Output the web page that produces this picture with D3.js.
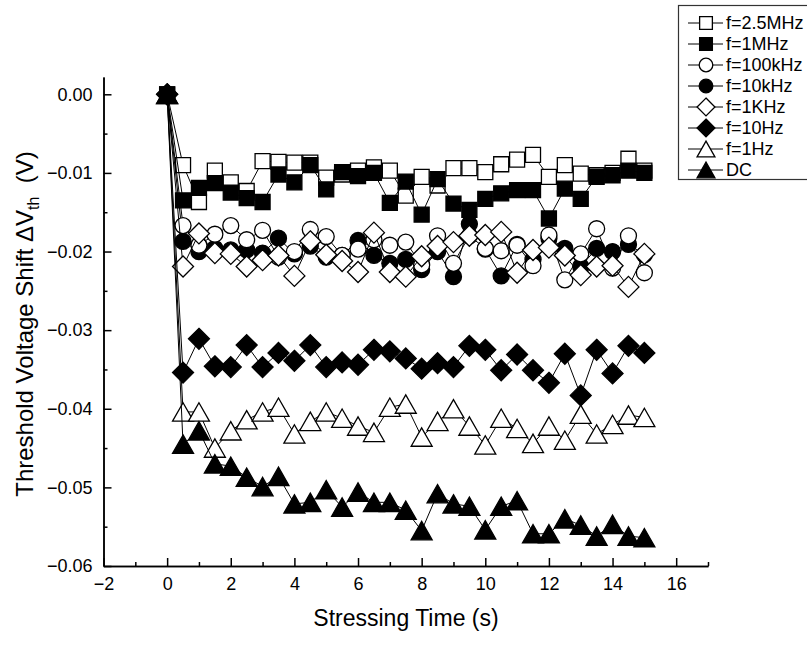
<!DOCTYPE html>
<html lang="en">
<head>
<meta charset="UTF-8">
<title>Threshold Voltage Shift</title>
<script src="https://d3js.org/d3.v7.min.js"></script>
<style>
    body { margin: 0; background: white; }
    svg text { font-family: Arial, "Liberation Sans", sans-serif; fill: black; }
</style>
</head>
<body>
<svg id="chart" width="807" height="645"></svg>
<script>
// stressing time (s)
const times = [0, 0.5, 1, 1.5, 2, 2.5, 3, 3.5, 4, 4.5, 5, 5.5, 6, 6.5, 7, 7.5,
               8, 8.5, 9, 9.5, 10, 10.5, 11, 11.5, 12, 12.5, 13, 13.5, 14, 14.5, 15];

// threshold voltage shift (V) for each stress condition
const f2_5MHz = [0, -0.0090, -0.0137, -0.0097, -0.0112, -0.0123, -0.0085, -0.0086, -0.0087, -0.0087, -0.0106,
                 -0.0102, -0.0097, -0.0093, -0.0097, -0.0129, -0.0105, -0.0116, -0.0094, -0.0094, -0.0099,
                 -0.0089, -0.0083, -0.0077, -0.0105, -0.0090, -0.0101, -0.0103, -0.0100, -0.0082, -0.0097];
const f1MHz = [0, -0.0135, -0.0119, -0.0113, -0.0125, -0.0132, -0.0137, -0.0102, -0.0112, -0.0090, -0.0121,
               -0.0099, -0.0104, -0.0100, -0.0138, -0.0111, -0.0153, -0.0108, -0.0139, -0.0147, -0.0133,
               -0.0126, -0.0122, -0.0122, -0.0158, -0.0120, -0.0133, -0.0105, -0.0103, -0.0097, -0.0100];
const f100kHz = [0, -0.0167, -0.0192, -0.0178, -0.0167, -0.0185, -0.0173, -0.0207, -0.0200, -0.0172, -0.0181,
                 -0.0205, -0.0197, -0.0185, -0.0192, -0.0188, -0.0217, -0.0180, -0.0215, -0.0180, -0.0196,
                 -0.0199, -0.0192, -0.0218, -0.0179, -0.0236, -0.0203, -0.0171, -0.0221, -0.0180, -0.0227];
const f10kHz = [0, -0.0187, -0.0200, -0.0196, -0.0198, -0.0198, -0.0202, -0.0183, -0.0203, -0.0193, -0.0207,
                -0.0205, -0.0186, -0.0205, -0.0215, -0.0210, -0.0223, -0.0200, -0.0232, -0.0165, -0.0197,
                -0.0231, -0.0191, -0.0210, -0.0183, -0.0196, -0.0219, -0.0196, -0.0200, -0.0191, -0.0204];
const f1KHz = [0, -0.0219, -0.0177, -0.0202, -0.0203, -0.0219, -0.0211, -0.0205, -0.0231, -0.0187, -0.0204,
               -0.0212, -0.0226, -0.0176, -0.0226, -0.0232, -0.0206, -0.0193, -0.0188, -0.0180, -0.0179,
               -0.0175, -0.0227, -0.0198, -0.0195, -0.0205, -0.0230, -0.0219, -0.0218, -0.0245, -0.0203];
const f10Hz = [0, -0.0354, -0.0311, -0.0346, -0.0347, -0.0319, -0.0347, -0.0329, -0.0339, -0.0319, -0.0347,
               -0.0341, -0.0344, -0.0325, -0.0327, -0.0336, -0.0349, -0.0342, -0.0347, -0.0320, -0.0325,
               -0.0351, -0.0331, -0.0351, -0.0367, -0.0330, -0.0383, -0.0325, -0.0355, -0.0320, -0.0329];
const f1Hz = [0, -0.0404, -0.0404, -0.0450, -0.0428, -0.0414, -0.0404, -0.0398, -0.0432, -0.0416, -0.0404,
              -0.0412, -0.0422, -0.0430, -0.0398, -0.0394, -0.0436, -0.0416, -0.0400, -0.0422, -0.0446,
              -0.0412, -0.0425, -0.0444, -0.0422, -0.0440, -0.0407, -0.0432, -0.0420, -0.0408, -0.0411];
const dc = [0, -0.0445, -0.0428, -0.0470, -0.0473, -0.0487, -0.0499, -0.0486, -0.0521, -0.0519, -0.0503,
            -0.0525, -0.0506, -0.0519, -0.0519, -0.0529, -0.0555, -0.0508, -0.0521, -0.0524, -0.0554,
            -0.0524, -0.0517, -0.0559, -0.0559, -0.0540, -0.0548, -0.0562, -0.0547, -0.0562, -0.0564];

const seriesNames = ["f=2.5MHz", "f=1MHz", "f=100kHz", "f=10kHz", "f=1KHz", "f=10Hz", "f=1Hz", "DC"];
const seriesValues = [f2_5MHz, f1MHz, f100kHz, f10kHz, f1KHz, f10Hz, f1Hz, dc];
const seriesShapes = ["square", "square", "circle", "circle", "diamond", "diamond", "triangle", "triangle"];
const seriesFilled = [false, true, false, true, false, true, false, true];
// order in which the plots are drawn (later ones sit on top)
const drawOrder = [0, 1, 3, 2, 4, 5, 6, 7];

const xTicks = [-2, 0, 2, 4, 6, 8, 10, 12, 14, 16];
const xMinorTicks = [-1, 1, 3, 5, 7, 9, 11, 13, 15, 17];
const yTicks = [-0.06, -0.05, -0.04, -0.03, -0.02, -0.01, 0];
const yMinorTicks = [-0.055, -0.045, -0.035, -0.025, -0.015, -0.005];

const svg = d3.select("#chart");

const x = d3.scaleLinear().domain([-2, 17]).range([103.5, 708]);
const y = d3.scaleLinear().domain([-0.06, 0.0022]).range([566, 77]);

// marker path around (0,0)
function markerPath(shape, s) {
    const p = d3.path();
    if (shape === "square") {
        const h = 7.5 * s;
        p.rect(-h, -h, 2 * h, 2 * h);
    } else if (shape === "circle") {
        p.arc(0, 0, 8 * s, 0, 2 * Math.PI);
        p.closePath();
    } else if (shape === "diamond") {
        const h = 10.5 * s;
        p.moveTo(0, -h); p.lineTo(h, 0); p.lineTo(0, h); p.lineTo(-h, 0); p.closePath();
    } else {
        const w = 10.5 * s, h = 9.2 * s;
        p.moveTo(0, -h); p.lineTo(w, h); p.lineTo(-w, h); p.closePath();
    }
    return p.toString();
}

const line = d3.line().x(d => x(d[0])).y(d => y(d[1]));

const plot = svg.append("g");
drawOrder.forEach(i => {
    const pts = times.map((t, j) => [t, seriesValues[i][j]]);
    const g = plot.append("g");
    g.append("path")
        .attr("d", line(pts))
        .attr("fill", "none")
        .attr("stroke", "black")
        .attr("stroke-width", 1);
    g.selectAll("path.m")
        .data(pts)
        .enter().append("path")
        .attr("class", "m")
        .attr("transform", d => `translate(${x(d[0])},${y(d[1])})`)
        .attr("d", markerPath(seriesShapes[i], 1))
        .attr("fill", seriesFilled[i] ? "black" : "white")
        .attr("stroke", "black")
        .attr("stroke-width", 1.3);
});

// axes (ticks point inward)
svg.append("g")
    .attr("transform", "translate(0,566)")
    .call(d3.axisBottom(x).tickValues(xTicks).tickSize(-8).tickSizeOuter(0).tickPadding(11)
        .tickFormat(d3.format("d")));
svg.append("g")
    .attr("transform", "translate(0,566)")
    .call(d3.axisBottom(x).tickValues(xMinorTicks).tickSize(-4).tickSizeOuter(0).tickFormat(""));

svg.append("g")
    .attr("transform", "translate(103.5,0)")
    .call(d3.axisLeft(y).tickValues(yTicks).tickSize(-8).tickSizeOuter(0).tickPadding(11)
        .tickFormat(d3.format(".2f")));
svg.append("g")
    .attr("transform", "translate(103.5,0)")
    .call(d3.axisLeft(y).tickValues(yMinorTicks).tickSize(-4).tickSizeOuter(0).tickFormat(""));

svg.selectAll(".domain, .tick line").attr("stroke", "black").attr("stroke-width", 1.5);
svg.selectAll(".tick text")
    .style("font-family", 'Arial, "Liberation Sans", sans-serif')
    .style("font-size", "18px")
    .attr("fill", "black");

// axis titles
svg.append("text")
    .attr("x", 406)
    .attr("y", 626)
    .attr("text-anchor", "middle")
    .style("font-size", "23px")
    .text("Stressing Time (s)");

const yTitle = svg.append("text")
    .attr("transform", "translate(33,324) rotate(-90)")
    .attr("text-anchor", "middle")
    .style("font-size", "24px");
yTitle.append("tspan").text("Threshold Voltage Shift \u0394V");
yTitle.append("tspan").attr("dy", 6).style("font-size", "16px").text("th");
yTitle.append("tspan").attr("dy", -6).text("\u00a0 (V)");

// legend
const legend = svg.append("g");
legend.append("rect")
    .attr("x", 678.5).attr("y", 5.5)
    .attr("width", 140).attr("height", 174)
    .attr("fill", "white")
    .attr("stroke", "#333")
    .attr("stroke-width", 1.2);

seriesNames.forEach((name, i) => {
    const ly = 23 + 21 * i;
    legend.append("line")
        .attr("x1", 688).attr("x2", 723)
        .attr("y1", ly).attr("y2", ly)
        .attr("stroke", "black").attr("stroke-width", 1);
    legend.append("path")
        .attr("transform", `translate(706,${ly})`)
        .attr("d", markerPath(seriesShapes[i], 0.85))
        .attr("fill", seriesFilled[i] ? "black" : "white")
        .attr("stroke", "black")
        .attr("stroke-width", 1.3);
    legend.append("text")
        .attr("x", 726)
        .attr("y", ly)
        .attr("dy", "0.36em")
        .style("font-size", "18px")
        .text(name);
});
</script>
</body>
</html>
